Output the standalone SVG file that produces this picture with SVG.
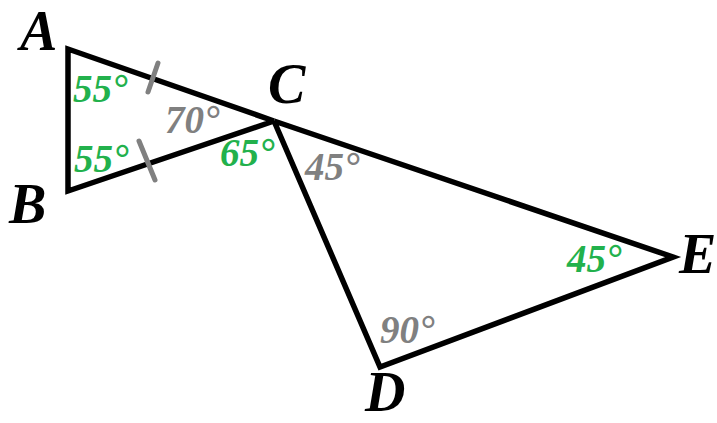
<svg xmlns="http://www.w3.org/2000/svg" width="717" height="423" viewBox="0 0 717 423">
<style>
.edge{fill:none;stroke:#000;stroke-width:5.5;stroke-linejoin:miter}
.tick{stroke:#808080;stroke-width:5;stroke-linecap:round}
.pt{font-family:"Liberation Serif",serif;font-style:italic;font-weight:bold;font-size:56px;fill:#000}
.ang{font-family:"Liberation Serif",serif;font-style:italic;font-weight:bold;font-size:39px}
.g{fill:#22b14c}
.s{fill:#808080}
</style>
<rect width="717" height="423" fill="#fff"/>
<g id="edges">
<polyline class="edge" points="274,121 68,49 68,191 274,121"/>
<polyline class="edge" points="274,121 673,257 380,367 274,121"/>
<line class="tick" x1="148" y1="92" x2="158" y2="63"/>
<line class="tick" x1="139" y1="141" x2="155" y2="180"/>
</g>
<g id="labels">
<text class="pt" x="20" y="50">A</text>
<text class="pt" x="9" y="223">B</text>
<text class="pt" x="268" y="103">C</text>
<text class="pt" x="365" y="411">D</text>
<text class="pt" x="679" y="273">E</text>
</g>
<g id="angles">
<text class="ang g" x="73" y="102">55°</text>
<text class="ang g" x="74" y="172">55°</text>
<text class="ang s" x="165" y="133">70°</text>
<text class="ang g" x="220" y="166">65°</text>
<text class="ang s" x="305" y="180">45°</text>
<text class="ang g" x="567" y="272">45°</text>
<text class="ang s" x="380" y="343">90°</text>
</g>
</svg>
